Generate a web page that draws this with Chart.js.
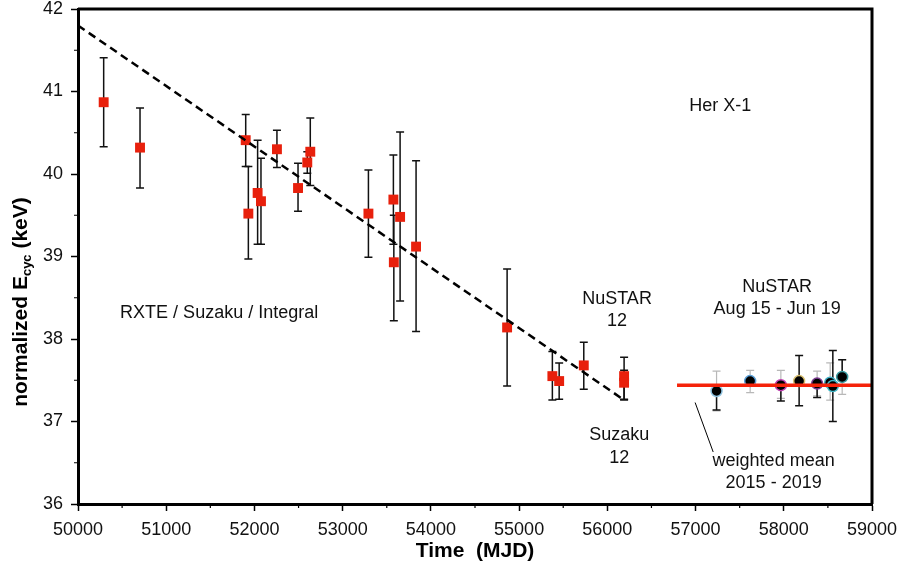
<!DOCTYPE html>
<html>
<head>
<meta charset="utf-8">
<script src="https://cdn.jsdelivr.net/npm/chart.js@4/dist/chart.umd.min.js"></script>
<style>
  html, body { margin: 0; padding: 0; background: #fff; }
  #wrap { width: 897px; height: 569px; }
</style>
</head>
<body>
<div id="wrap"><canvas id="cycChart" width="897" height="569"></canvas></div>
<script>
// RXTE / Suzaku / Integral / NuSTAR-12 / Suzaku-12 (red squares)
const oldMjd = [50291, 50703, 51901, 51931, 52036, 52074, 52255, 52494, 52599, 52633, 53292, 53575, 53580, 53651, 53832, 54864, 55377, 55454, 55733, 56190, 56190];
const oldE   = [40.87, 40.32, 40.41, 39.52, 39.77, 39.67, 40.30, 39.83, 40.14, 40.27, 39.52, 39.69, 38.93, 39.48, 39.12, 38.14, 37.55, 37.49, 37.68, 37.55, 37.47];
const oldLo  = [40.33, 39.83, 40.09, 38.97, 39.15, 39.15, 40.08, 39.55, 40.01, 39.86, 38.99, 39.15, 38.22, 38.46, 38.09, 37.43, 37.26, 37.27, 37.39, 37.27, 37.26];
const oldHi  = [41.41, 40.80, 40.72, 40.09, 40.41, 40.19, 40.53, 40.13, 40.27, 40.68, 40.05, 40.23, 39.50, 40.51, 40.16, 38.85, 37.85, 37.71, 37.96, 37.78, 37.62];

// NuSTAR Aug 15 - Jun 19 (black circles), grey and black error bars
const nuMjd    = [57238, 57619, 57967, 58174, 58378, 58526, 58556, 58662];
const nuE      = [37.37, 37.49, 37.44, 37.49, 37.46, 37.47, 37.43, 37.54];
const nuGreyLo = [37.13, 37.35, 37.28, null, 37.31, 37.26, null, 37.33];
const nuGreyHi = [37.61, 37.62, 37.62, null, 37.61, 37.71, null, 37.75];
const nuBlkLo  = [37.14, null, 37.25, 37.19, 37.29, null, 37.00, 37.54];
const nuBlkHi  = [37.37, null, 37.44, 37.80, 37.46, null, 37.86, 37.75];
const nuEdge   = ['#8fc3e0', '#5aa0d8', '#c040b0', '#d8c070', '#7a3a90', '#40b0c8', '#40b8c8', '#3a9aa0'];

// linear trend and weighted mean
const trendMjd = [50000, 56190];
const trendE   = [41.8, 37.26];
const meanMjd  = [56790, 59000];
const meanE    = [37.44, 37.44];

// text labels (MJD, keV)
const notes = [
  { t: 'Her X-1', x: 57280, y: 40.82 },
  { t: 'RXTE / Suzaku / Integral', x: 51600, y: 38.32 },
  { t: 'NuSTAR', x: 56110, y: 38.49 },
  { t: '12', x: 56110, y: 38.22 },
  { t: 'Suzaku', x: 56135, y: 36.83 },
  { t: '12', x: 56135, y: 36.56 },
  { t: 'NuSTAR', x: 57925, y: 38.63 },
  { t: 'Aug 15 - Jun 19', x: 57925, y: 38.36 },
  { t: 'weighted mean', x: 57885, y: 36.52 },
  { t: '2015 - 2019', x: 57885, y: 36.25 }
];
const pointer = { x1: 56995, y1: 37.23, x2: 57200, y2: 36.63 };

const FONT = '"Liberation Sans", Arial, sans-serif';
const pts = (xs, ys) => xs.map((v, i) => ({ x: v, y: ys[i] }));

function bar(ctx, x, y, mjd, lo, hi, color, cap) {
  if (lo == null || hi == null) return;
  const px = x.getPixelForValue(mjd);
  const p1 = y.getPixelForValue(lo);
  const p2 = y.getPixelForValue(hi);
  ctx.strokeStyle = color;
  ctx.beginPath();
  ctx.moveTo(px, p1); ctx.lineTo(px, p2);
  ctx.moveTo(px - cap, p1); ctx.lineTo(px + cap, p1);
  ctx.moveTo(px - cap, p2); ctx.lineTo(px + cap, p2);
  ctx.stroke();
}

const errorBars = {
  id: 'errorBars',
  beforeDatasetsDraw(chart) {
    const { ctx, scales: { x, y } } = chart;
    ctx.save();
    ctx.lineWidth = 1.5;
    oldMjd.forEach((m, i) => bar(ctx, x, y, m, oldLo[i], oldHi[i], '#111', 4));
    ctx.lineWidth = 1.2;
    nuMjd.forEach((m, i) => bar(ctx, x, y, m, nuGreyLo[i], nuGreyHi[i], '#b8b8b8', 4));
    ctx.lineWidth = 1.5;
    nuMjd.forEach((m, i) => bar(ctx, x, y, m, nuBlkLo[i], nuBlkHi[i], '#111', 4));
    ctx.restore();
  }
};

const decor = {
  id: 'decor',
  afterDraw(chart) {
    const { ctx, chartArea: a, scales: { x, y } } = chart;
    ctx.save();
    // frame top/right
    ctx.strokeStyle = '#000';
    ctx.lineWidth = 3;
    ctx.beginPath();
    ctx.moveTo(a.left, a.top); ctx.lineTo(a.right, a.top); ctx.lineTo(a.right, a.bottom);
    ctx.stroke();
    // minor ticks
    ctx.lineWidth = 1.2;
    ctx.beginPath();
    for (let v = 50500; v < 59000; v += 1000) {
      const px = x.getPixelForValue(v);
      ctx.moveTo(px, a.bottom); ctx.lineTo(px, a.bottom + 4);
    }
    for (let v = 36.5; v < 42; v += 1) {
      const py = y.getPixelForValue(v);
      ctx.moveTo(a.left, py); ctx.lineTo(a.left - 4, py);
    }
    ctx.stroke();
    // notes
    ctx.fillStyle = '#111';
    ctx.font = '18px ' + FONT;
    ctx.textAlign = 'center';
    ctx.textBaseline = 'middle';
    notes.forEach(n => ctx.fillText(n.t, x.getPixelForValue(n.x), y.getPixelForValue(n.y)));
    ctx.lineWidth = 1;
    ctx.beginPath();
    ctx.moveTo(x.getPixelForValue(pointer.x1), y.getPixelForValue(pointer.y1));
    ctx.lineTo(x.getPixelForValue(pointer.x2), y.getPixelForValue(pointer.y2));
    ctx.stroke();
    // x title
    ctx.font = 'bold 21px ' + FONT;
    ctx.fillStyle = '#000';
    ctx.fillText('Time  (MJD)', 475, 551);
    // y title with subscript
    ctx.translate(21, 302);
    ctx.rotate(-Math.PI / 2);
    const big = 'bold 21px ' + FONT, small = 'bold 13px ' + FONT;
    const p1 = 'normalized E', p2 = 'cyc', p3 = ' (keV)';
    ctx.font = big; const w1 = ctx.measureText(p1).width, w3 = ctx.measureText(p3).width;
    ctx.font = small; const w2 = ctx.measureText(p2).width;
    let cx = -(w1 + w2 + w3) / 2;
    ctx.textAlign = 'left';
    ctx.font = big; ctx.fillText(p1, cx, 0); cx += w1;
    ctx.font = small; ctx.fillText(p2, cx, 6); cx += w2;
    ctx.font = big; ctx.fillText(p3, cx, 0);
    ctx.restore();
  }
};

new Chart(document.getElementById('cycChart'), {
  type: 'scatter',
  data: {
    datasets: [
      {
        label: 'trend',
        data: pts(trendMjd, trendE),
        showLine: true,
        borderColor: '#000',
        borderWidth: 2.5,
        borderDash: [8, 5],
        pointRadius: 0
      },
      {
        label: 'weighted mean',
        data: pts(meanMjd, meanE),
        showLine: true,
        borderColor: '#f5230a',
        borderWidth: 3.5,
        pointRadius: 0
      },
      {
        label: 'RXTE / Suzaku / Integral',
        data: pts(oldMjd, oldE),
        pointStyle: 'rect',
        pointRadius: 7,
        backgroundColor: '#e8200c',
        borderColor: '#e8200c',
        borderWidth: 0
      },
      {
        label: 'NuSTAR',
        data: pts(nuMjd, nuE),
        pointStyle: 'circle',
        pointRadius: 5.5,
        backgroundColor: '#000',
        borderColor: nuEdge,
        borderWidth: 1.5
      }
    ]
  },
  options: {
    responsive: false,
    animation: false,
    layout: { padding: { top: 9, right: 25, left: 0, bottom: 0 } },
    plugins: {
      legend: { display: false },
      tooltip: { enabled: false }
    },
    scales: {
      x: {
        type: 'linear',
        min: 50000,
        max: 59000,
        afterFit: s => { s.height = 65; s.paddingLeft = 0; s.paddingRight = 0; },
        border: { color: '#000', width: 3 },
        grid: { drawOnChartArea: false, tickLength: 7, tickColor: '#000', tickWidth: 1.5 },
        ticks: {
          stepSize: 1000,
          padding: 8,
          maxRotation: 0,
          color: '#111',
          font: { family: FONT, size: 18 },
          callback: v => String(v)
        }
      },
      y: {
        min: 36,
        max: 42,
        afterFit: s => { s.width = 78; s.paddingTop = 0; s.paddingBottom = 0; },
        border: { color: '#000', width: 3 },
        grid: { drawOnChartArea: false, tickLength: 7, tickColor: '#000', tickWidth: 1.5 },
        ticks: {
          stepSize: 1,
          padding: 8,
          color: '#111',
          font: { family: FONT, size: 18 }
        }
      }
    }
  },
  plugins: [errorBars, decor]
});
</script>
</body>
</html>
